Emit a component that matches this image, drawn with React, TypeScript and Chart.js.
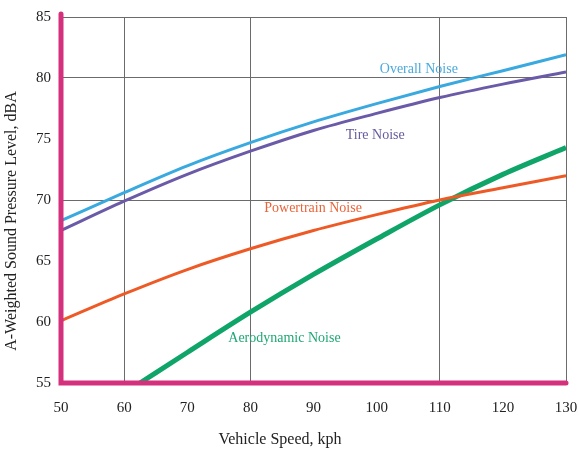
import React, { useEffect, useRef } from "react";
import { Chart, registerables } from "chart.js";

Chart.register(...registerables);

const speeds = [50, 60, 70, 80, 90, 100, 110, 120, 130];
const overallNoise = [68.3, 70.6, 72.8, 74.7, 76.4, 77.9, 79.3, 80.6, 81.9];
const tireNoise = [67.5, 69.9, 72.1, 74.0, 75.7, 77.1, 78.4, 79.5, 80.5];
const powertrainNoise = [60.1, 62.3, 64.3, 66.0, 67.5, 68.8, 70.0, 71.0, 72.0];
const aeroSpeeds = [62.5, 70, 80, 90, 100, 110, 120, 130];
const aeroNoise = [55.0, 57.5, 60.8, 63.9, 66.8, 69.6, 72.1, 74.3];

const xTicks = [50, 60, 70, 80, 90, 100, 110, 120, 130];
const yTicks = [55, 60, 65, 70, 75, 80, 85];
const xGridAt = [60, 80, 110, 130];
const yGridAt = [70, 80, 85];

const xTitle = "Vehicle Speed, kph";
const yTitle = "A-Weighted Sound Pressure Level, dBA";

const seriesLabels = [
  { text: "Overall Noise", x: 100.5, y: 80.7, color: "#4aa9dc" },
  { text: "Tire Noise", x: 95.1, y: 75.3, color: "#655a9e" },
  { text: "Powertrain Noise", x: 82.2, y: 69.3, color: "#e8643a" },
  { text: "Aerodynamic Noise", x: 76.5, y: 58.7, color: "#1fa774" },
];

const SERIF = "'Liberation Serif', 'DejaVu Serif', serif";
const PINK = "#d4307c";

const overlayPlugin = {
  id: "overlay",
  afterDatasetsDraw(chart: any) {
    const { ctx, chartArea, scales } = chart;
    const xs = scales.x;
    const ys = scales.y;
    ctx.save();
    ctx.font = `14px ${SERIF}`;
    ctx.textAlign = "left";
    ctx.textBaseline = "middle";
    for (const l of seriesLabels) {
      ctx.fillStyle = l.color;
      ctx.fillText(l.text, xs.getPixelForValue(l.x), ys.getPixelForValue(l.y));
    }
    ctx.strokeStyle = PINK;
    ctx.lineWidth = 5;
    ctx.lineCap = "round";
    ctx.beginPath();
    ctx.moveTo(chartArea.left, chartArea.top - 3);
    ctx.lineTo(chartArea.left, chartArea.bottom);
    ctx.lineTo(chartArea.right, chartArea.bottom);
    ctx.stroke();

    // axis titles (offset from axis centre as in the original)
    ctx.fillStyle = "#222";
    ctx.font = `16px ${SERIF}`;
    ctx.textAlign = "center";
    ctx.textBaseline = "middle";
    ctx.fillText(xTitle, chartArea.left + 219, chartArea.bottom + 57);
    ctx.translate(12, chartArea.top + 204);
    ctx.rotate(-Math.PI / 2);
    ctx.fillText(yTitle, 0, 0);
    ctx.restore();
  },
};

export default function App() {
  const ref = useRef<HTMLCanvasElement>(null);
  useEffect(() => {
    document.body.style.margin = "0";
    const chart = new Chart(ref.current!, {
      type: "line",
      data: {
        datasets: [
          {
            label: "Overall Noise",
            data: speeds.map((s, i) => ({ x: s, y: overallNoise[i] })),
            borderColor: "#39a9df",
            borderWidth: 3,
            pointRadius: 0,
            cubicInterpolationMode: "monotone",
          },
          {
            label: "Tire Noise",
            data: speeds.map((s, i) => ({ x: s, y: tireNoise[i] })),
            borderColor: "#6a5aa8",
            borderWidth: 3,
            pointRadius: 0,
            cubicInterpolationMode: "monotone",
          },
          {
            label: "Powertrain Noise",
            data: speeds.map((s, i) => ({ x: s, y: powertrainNoise[i] })),
            borderColor: "#ee5a26",
            borderWidth: 3,
            pointRadius: 0,
            cubicInterpolationMode: "monotone",
          },
          {
            label: "Aerodynamic Noise",
            data: aeroSpeeds.map((s, i) => ({ x: s, y: aeroNoise[i] })),
            borderColor: "#0fa468",
            borderWidth: 5,
            pointRadius: 0,
            cubicInterpolationMode: "monotone",
          },
        ],
      },
      options: {
        animation: false,
        responsive: false,
        maintainAspectRatio: false,
        layout: { padding: { left: 0, top: 17, right: 13, bottom: 0 } },
        plugins: { legend: { display: false }, tooltip: { enabled: false } },
        scales: {
          x: {
            type: "linear",
            min: 50,
            max: 130,
            afterBuildTicks: (s: any) => {
              s.ticks = xTicks.map((v) => ({ value: v }));
            },
            afterFit: (s: any) => {
              s.height = 69;
              s.paddingRight = 0;
              s.paddingLeft = 0;
            },
            border: { display: false },
            grid: {
              drawTicks: false,
              color: (c: any) =>
                xGridAt.includes(c.tick?.value) ? "#6b6b6b" : "rgba(0,0,0,0)",
              lineWidth: 1,
            },
            ticks: {
              padding: 16,
              color: "#222",
              font: { family: SERIF, size: 15 },
            },
            title: { display: false },
          },
          y: {
            type: "linear",
            min: 55,
            max: 85,
            afterBuildTicks: (s: any) => {
              s.ticks = yTicks.map((v) => ({ value: v }));
            },
            afterFit: (s: any) => {
              s.width = 61;
              s.paddingTop = 0;
              s.paddingBottom = 0;
            },
            border: { display: false },
            grid: {
              drawTicks: false,
              color: (c: any) =>
                yGridAt.includes(c.tick?.value) ? "#6b6b6b" : "rgba(0,0,0,0)",
              lineWidth: 1,
            },
            ticks: {
              padding: 10,
              color: "#222",
              font: { family: SERIF, size: 15 },
            },
            title: { display: false },
          },
        },
      },
      plugins: [overlayPlugin],
    } as any);
    return () => chart.destroy();
  }, []);
  return (
    <div style={{ width: 579, height: 452, background: "#fff" }}>
      <canvas ref={ref} width={579} height={452} style={{ display: "block" }} />
    </div>
  );
}
